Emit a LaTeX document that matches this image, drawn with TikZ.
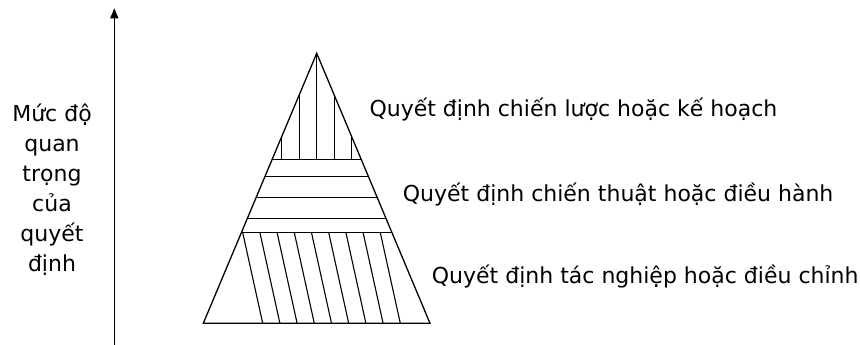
\documentclass[tikz,border=0pt]{standalone}
\usepackage{fontspec}
\setmainfont{DejaVu Sans}
\usetikzlibrary{arrows.meta,calc}
\begin{document}
\begin{tikzpicture}[x=1pt,y=-1pt,
  edge/.style={line width=1.3pt, line join=miter},
  hatch/.style={line width=1.1pt},
  lbl/.style={font=\fontsize{22}{29}\selectfont, inner sep=0pt, anchor=base west},
  axislbl/.style={font=\fontsize{22}{30}\selectfont, inner sep=0pt, align=center},
  axis/.style={line width=1.2pt, -{Triangle[length=10pt,width=8pt]}}]
\useasboundingbox (0,0) rectangle (860,345);
% triangle corners
\coordinate (A) at (316.7,53.3);
\coordinate (L) at (203.3,323.3);
\coordinate (R) at (430,323.3);
% horizontal band lines
\foreach \t [count=\n] in {0.3926,0.457,0.533,0.611,0.664} {
  \coordinate (H\n L) at ($(A)!\t!(L)$);
  \coordinate (H\n R) at ($(A)!\t!(R)$);
  \draw[hatch] (H\n L) -- (H\n R);
}
% top section verticals
\draw[hatch] (A) -- (A |- H1L);
\foreach \k in {1,2} {
  \coordinate (VL\k) at ($(A)!{\k*0.1552}!(L)$);
  \coordinate (VR\k) at ($(A)!{\k*0.1552}!(R)$);
  \draw[hatch] (VL\k) -- (VL\k |- H1L);
  \draw[hatch] (VR\k) -- (VR\k |- H1L);
}
% bottom section slanted lines
\foreach \i in {0,...,8} {
  \coordinate (St\i) at ($(H5L)+(1.3+17.2*\i,0)$);
  \coordinate (Sb\i) at ($(St\i)+(20,90.7)$);
  \draw[hatch] (St\i) -- (Sb\i);
}
% triangle outline
\draw[edge] (A) -- (L) -- (R) -- cycle;
% vertical axis
\coordinate (axb) at (114.3,346);
\coordinate (axt) at (114.3,8.3);
\draw[axis] (axb) -- (axt);
\node[axislbl] (ylab) at (52,190) {Mức độ\\quan\\trọng\\của\\quyết\\định};
% level labels
\node[lbl] (l1) at (369.3,116.7) {Quyết định chiến lược hoặc kế hoạch};
\node[lbl] (l2) at (402.7,201.7) {Quyết định chiến thuật hoặc điều hành};
\node[lbl] (l3) at (431.7,283.3) {Quyết định tác nghiệp hoặc điều chỉnh};
\end{tikzpicture}
\end{document}
